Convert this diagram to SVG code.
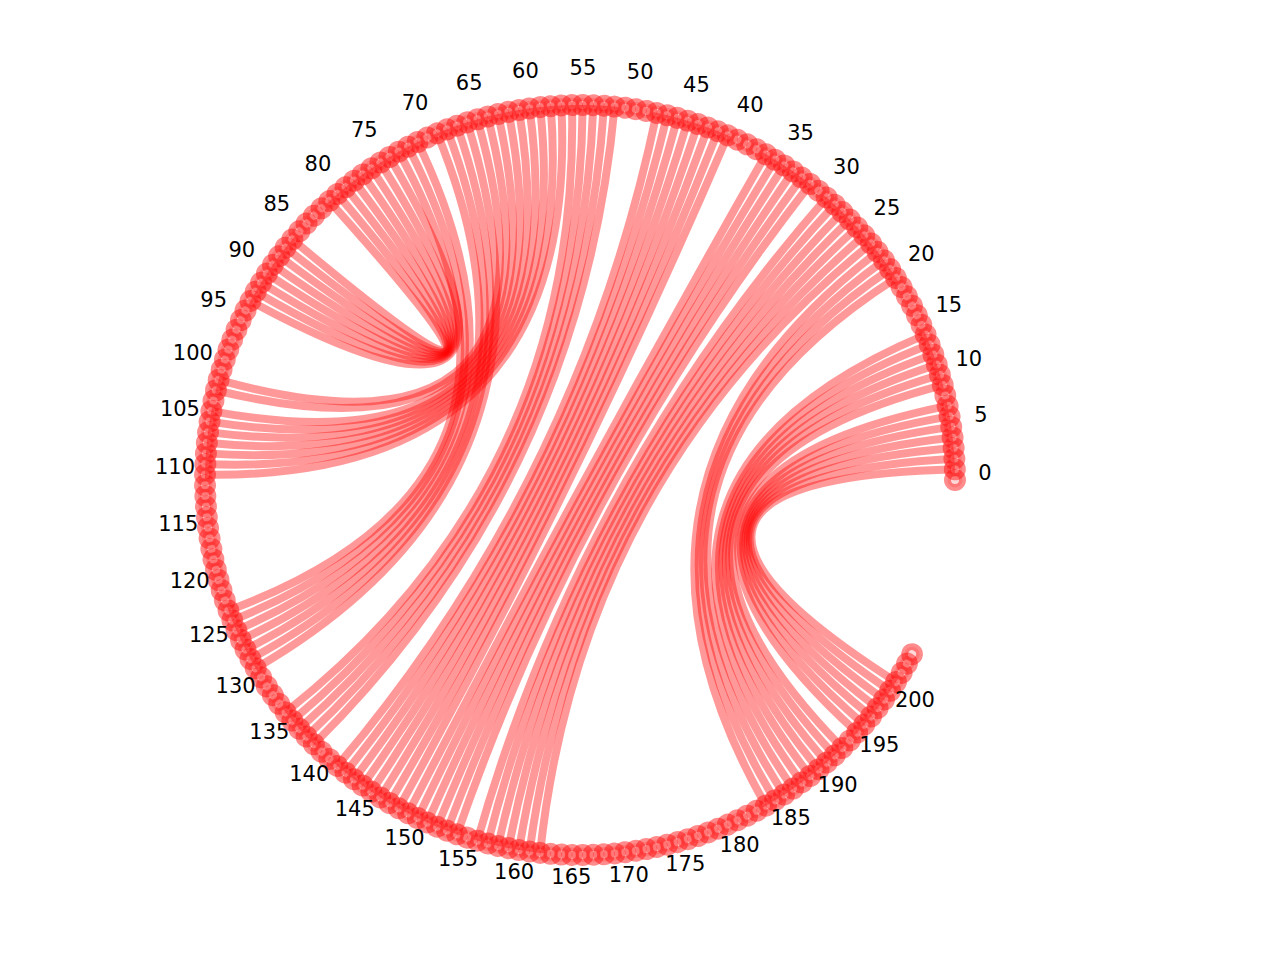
<svg xmlns="http://www.w3.org/2000/svg" width="1280" height="960" viewBox="0 0 1280 960">
<style>
.e{fill:none;stroke:rgba(255,0,0,0.4);stroke-width:8}
.nd{fill:rgba(255,0,0,0.15);stroke:rgba(255,0,0,0.45);stroke-width:7}
.lb{font-family:"DejaVu Sans","Liberation Sans",sans-serif;font-size:21px;fill:#000;text-anchor:middle}
</style>
<defs><circle id="d" class="nd" cx="955" cy="480" r="7.5"/></defs>
<rect width="1280" height="960" fill="#fff"/>
<g id="edges">
<g id="b1" transform="translate(580 480) rotate(15.475)">
<path class="e" d="M358.41 -110.29Q0 0 358.41 110.29"/>
<path class="e" d="M355.14 -120.44Q0 0 355.14 120.44"/>
<path class="e" d="M351.57 -130.48Q0 0 351.57 130.48"/>
<path class="e" d="M347.70 -140.46Q0 0 347.70 140.46"/>
<path class="e" d="M343.59 -150.25Q0 0 343.59 150.25"/>
<path class="e" d="M339.17 -159.96Q0 0 339.17 159.96"/>
<path class="e" d="M334.49 -169.53Q0 0 334.49 169.53"/>
<path class="e" d="M324.32 -188.27Q0 0 324.32 188.27"/>
<path class="e" d="M318.83 -197.41Q0 0 318.83 197.41"/>
<path class="e" d="M313.09 -206.40Q0 0 313.09 206.40"/>
<path class="e" d="M307.10 -215.21Q0 0 307.10 215.21"/>
<path class="e" d="M300.86 -223.86Q0 0 300.86 223.86"/>
<path class="e" d="M294.37 -232.32Q0 0 294.37 232.32"/>
</g>
<g id="b2" transform="translate(580 480) rotate(11.403)">
<path class="e" d="M269.84 -260.41Q0 0 269.84 260.41"/>
<path class="e" d="M262.32 -267.98Q0 0 262.32 267.98"/>
<path class="e" d="M254.60 -275.33Q0 0 254.60 275.33"/>
<path class="e" d="M246.67 -282.45Q0 0 246.67 282.45"/>
</g>
<g id="b3" transform="translate(580 480) rotate(-151.493)">
<path class="e" d="M-8.00 -374.92Q0 0 -8.00 374.92"/>
<path class="e" d="M-18.65 -374.54Q0 0 -18.65 374.54"/>
<path class="e" d="M-29.29 -373.85Q0 0 -29.29 373.85"/>
<path class="e" d="M-39.90 -372.87Q0 0 -39.90 372.87"/>
<path class="e" d="M-50.49 -371.58Q0 0 -50.49 371.58"/>
<path class="e" d="M-61.03 -370.00Q0 0 -61.03 370.00"/>
<path class="e" d="M-81.96 -365.94Q0 0 -81.96 365.94"/>
<path class="e" d="M-92.33 -363.46Q0 0 -92.33 363.46"/>
<path class="e" d="M-102.62 -360.69Q0 0 -102.62 360.69"/>
<path class="e" d="M-112.83 -357.62Q0 0 -112.83 357.62"/>
<path class="e" d="M-122.96 -354.27Q0 0 -122.96 354.27"/>
<path class="e" d="M-132.98 -350.63Q0 0 -132.98 350.63"/>
<path class="e" d="M-142.89 -346.71Q0 0 -142.89 346.71"/>
</g>
<g id="b4" transform="translate(580 480) rotate(-153.937)">
<path class="e" d="M92.33 -363.46Q0 0 92.33 363.46"/>
<path class="e" d="M81.96 -365.94Q0 0 81.96 365.94"/>
<path class="e" d="M71.52 -368.11Q0 0 71.52 368.11"/>
<path class="e" d="M61.03 -370.00Q0 0 61.03 370.00"/>
<path class="e" d="M50.49 -371.59Q0 0 50.49 371.59"/>
<path class="e" d="M39.90 -372.87Q0 0 39.90 372.87"/>
<path class="e" d="M29.29 -373.86Q0 0 29.29 373.86"/>
<path class="e" d="M18.65 -374.54Q0 0 18.65 374.54"/>
</g>
<g id="b5" transform="translate(580 480) rotate(-154.751)">
<path class="e" d="M167.15 -335.69Q0 0 167.15 335.69"/>
<path class="e" d="M157.54 -340.30Q0 0 157.54 340.30"/>
<path class="e" d="M147.80 -344.64Q0 0 147.80 344.64"/>
<path class="e" d="M137.95 -348.71Q0 0 137.95 348.71"/>
<path class="e" d="M127.98 -352.49Q0 0 127.98 352.49"/>
</g>
<g id="b6" transform="translate(580 480) rotate(-136.018)">
<path class="e" d="M313.09 -206.40Q0 0 313.09 206.40"/>
<path class="e" d="M307.10 -215.21Q0 0 307.10 215.21"/>
<path class="e" d="M300.86 -223.86Q0 0 300.86 223.86"/>
<path class="e" d="M294.37 -232.32Q0 0 294.37 232.32"/>
<path class="e" d="M287.65 -240.59Q0 0 287.65 240.59"/>
<path class="e" d="M280.69 -248.67Q0 0 280.69 248.67"/>
<path class="e" d="M273.51 -256.55Q0 0 273.51 256.55"/>
</g>
<g id="b6b" transform="translate(580 480) rotate(-135.204)">
<path class="e" d="M326.96 -183.64Q0 0 326.96 183.64"/>
<path class="e" d="M321.61 -192.86Q0 0 321.61 192.86"/>
</g>
<g id="b7" transform="translate(580 480) rotate(-158.823)">
<path class="e" d="M258.49 -271.68Q0 0 258.49 271.68"/>
<path class="e" d="M250.66 -278.92Q0 0 250.66 278.92"/>
<path class="e" d="M242.63 -285.93Q0 0 242.63 285.93"/>
<path class="e" d="M234.40 -292.71Q0 0 234.40 292.71"/>
</g>
<g id="b7b" transform="translate(580 480) rotate(-159.638)">
<path class="e" d="M284.20 -244.66Q0 0 284.20 244.66"/>
<path class="e" d="M277.13 -252.64Q0 0 277.13 252.64"/>
<path class="e" d="M269.84 -260.41Q0 0 269.84 260.41"/>
</g>
<g id="b8" transform="translate(580 480) rotate(-136.018)">
<path class="e" d="M374.05 -26.63Q0 0 374.05 26.63"/>
<path class="e" d="M373.14 -37.25Q0 0 373.14 37.25"/>
<path class="e" d="M371.94 -47.85Q0 0 371.94 47.85"/>
<path class="e" d="M370.43 -58.40Q0 0 370.43 58.40"/>
<path class="e" d="M368.61 -68.91Q0 0 368.61 68.91"/>
<path class="e" d="M366.51 -79.36Q0 0 366.51 79.36"/>
<path class="e" d="M364.10 -89.75Q0 0 364.10 89.75"/>
<path class="e" d="M361.40 -100.07Q0 0 361.40 100.07"/>
</g>
</g>
<g id="nodes">
<g id="n0"><use href="#d"/></g>
<g id="n1"><use href="#d" transform="rotate(-1.63 580 480)"/></g>
<g id="n2"><use href="#d" transform="rotate(-3.26 580 480)"/></g>
<g id="n3"><use href="#d" transform="rotate(-4.89 580 480)"/></g>
<g id="n4"><use href="#d" transform="rotate(-6.52 580 480)"/></g>
<g id="n5"><use href="#d" transform="rotate(-8.14 580 480)"/></g>
<g id="n6"><use href="#d" transform="rotate(-9.77 580 480)"/></g>
<g id="n7"><use href="#d" transform="rotate(-11.40 580 480)"/></g>
<g id="n8"><use href="#d" transform="rotate(-13.03 580 480)"/></g>
<g id="n9"><use href="#d" transform="rotate(-14.66 580 480)"/></g>
<g id="n10"><use href="#d" transform="rotate(-16.29 580 480)"/></g>
<g id="n11"><use href="#d" transform="rotate(-17.92 580 480)"/></g>
<g id="n12"><use href="#d" transform="rotate(-19.55 580 480)"/></g>
<g id="n13"><use href="#d" transform="rotate(-21.18 580 480)"/></g>
<g id="n14"><use href="#d" transform="rotate(-22.81 580 480)"/></g>
<g id="n15"><use href="#d" transform="rotate(-24.43 580 480)"/></g>
<g id="n16"><use href="#d" transform="rotate(-26.06 580 480)"/></g>
<g id="n17"><use href="#d" transform="rotate(-27.69 580 480)"/></g>
<g id="n18"><use href="#d" transform="rotate(-29.32 580 480)"/></g>
<g id="n19"><use href="#d" transform="rotate(-30.95 580 480)"/></g>
<g id="n20"><use href="#d" transform="rotate(-32.58 580 480)"/></g>
<g id="n21"><use href="#d" transform="rotate(-34.21 580 480)"/></g>
<g id="n22"><use href="#d" transform="rotate(-35.84 580 480)"/></g>
<g id="n23"><use href="#d" transform="rotate(-37.47 580 480)"/></g>
<g id="n24"><use href="#d" transform="rotate(-39.10 580 480)"/></g>
<g id="n25"><use href="#d" transform="rotate(-40.72 580 480)"/></g>
<g id="n26"><use href="#d" transform="rotate(-42.35 580 480)"/></g>
<g id="n27"><use href="#d" transform="rotate(-43.98 580 480)"/></g>
<g id="n28"><use href="#d" transform="rotate(-45.61 580 480)"/></g>
<g id="n29"><use href="#d" transform="rotate(-47.24 580 480)"/></g>
<g id="n30"><use href="#d" transform="rotate(-48.87 580 480)"/></g>
<g id="n31"><use href="#d" transform="rotate(-50.50 580 480)"/></g>
<g id="n32"><use href="#d" transform="rotate(-52.13 580 480)"/></g>
<g id="n33"><use href="#d" transform="rotate(-53.76 580 480)"/></g>
<g id="n34"><use href="#d" transform="rotate(-55.38 580 480)"/></g>
<g id="n35"><use href="#d" transform="rotate(-57.01 580 480)"/></g>
<g id="n36"><use href="#d" transform="rotate(-58.64 580 480)"/></g>
<g id="n37"><use href="#d" transform="rotate(-60.27 580 480)"/></g>
<g id="n38"><use href="#d" transform="rotate(-61.90 580 480)"/></g>
<g id="n39"><use href="#d" transform="rotate(-63.53 580 480)"/></g>
<g id="n40"><use href="#d" transform="rotate(-65.16 580 480)"/></g>
<g id="n41"><use href="#d" transform="rotate(-66.79 580 480)"/></g>
<g id="n42"><use href="#d" transform="rotate(-68.42 580 480)"/></g>
<g id="n43"><use href="#d" transform="rotate(-70.05 580 480)"/></g>
<g id="n44"><use href="#d" transform="rotate(-71.67 580 480)"/></g>
<g id="n45"><use href="#d" transform="rotate(-73.30 580 480)"/></g>
<g id="n46"><use href="#d" transform="rotate(-74.93 580 480)"/></g>
<g id="n47"><use href="#d" transform="rotate(-76.56 580 480)"/></g>
<g id="n48"><use href="#d" transform="rotate(-78.19 580 480)"/></g>
<g id="n49"><use href="#d" transform="rotate(-79.82 580 480)"/></g>
<g id="n50"><use href="#d" transform="rotate(-81.45 580 480)"/></g>
<g id="n51"><use href="#d" transform="rotate(-83.08 580 480)"/></g>
<g id="n52"><use href="#d" transform="rotate(-84.71 580 480)"/></g>
<g id="n53"><use href="#d" transform="rotate(-86.33 580 480)"/></g>
<g id="n54"><use href="#d" transform="rotate(-87.96 580 480)"/></g>
<g id="n55"><use href="#d" transform="rotate(-89.59 580 480)"/></g>
<g id="n56"><use href="#d" transform="rotate(-91.22 580 480)"/></g>
<g id="n57"><use href="#d" transform="rotate(-92.85 580 480)"/></g>
<g id="n58"><use href="#d" transform="rotate(-94.48 580 480)"/></g>
<g id="n59"><use href="#d" transform="rotate(-96.11 580 480)"/></g>
<g id="n60"><use href="#d" transform="rotate(-97.74 580 480)"/></g>
<g id="n61"><use href="#d" transform="rotate(-99.37 580 480)"/></g>
<g id="n62"><use href="#d" transform="rotate(-101.00 580 480)"/></g>
<g id="n63"><use href="#d" transform="rotate(-102.62 580 480)"/></g>
<g id="n64"><use href="#d" transform="rotate(-104.25 580 480)"/></g>
<g id="n65"><use href="#d" transform="rotate(-105.88 580 480)"/></g>
<g id="n66"><use href="#d" transform="rotate(-107.51 580 480)"/></g>
<g id="n67"><use href="#d" transform="rotate(-109.14 580 480)"/></g>
<g id="n68"><use href="#d" transform="rotate(-110.77 580 480)"/></g>
<g id="n69"><use href="#d" transform="rotate(-112.40 580 480)"/></g>
<g id="n70"><use href="#d" transform="rotate(-114.03 580 480)"/></g>
<g id="n71"><use href="#d" transform="rotate(-115.66 580 480)"/></g>
<g id="n72"><use href="#d" transform="rotate(-117.29 580 480)"/></g>
<g id="n73"><use href="#d" transform="rotate(-118.91 580 480)"/></g>
<g id="n74"><use href="#d" transform="rotate(-120.54 580 480)"/></g>
<g id="n75"><use href="#d" transform="rotate(-122.17 580 480)"/></g>
<g id="n76"><use href="#d" transform="rotate(-123.80 580 480)"/></g>
<g id="n77"><use href="#d" transform="rotate(-125.43 580 480)"/></g>
<g id="n78"><use href="#d" transform="rotate(-127.06 580 480)"/></g>
<g id="n79"><use href="#d" transform="rotate(-128.69 580 480)"/></g>
<g id="n80"><use href="#d" transform="rotate(-130.32 580 480)"/></g>
<g id="n81"><use href="#d" transform="rotate(-131.95 580 480)"/></g>
<g id="n82"><use href="#d" transform="rotate(-133.57 580 480)"/></g>
<g id="n83"><use href="#d" transform="rotate(-135.20 580 480)"/></g>
<g id="n84"><use href="#d" transform="rotate(-136.83 580 480)"/></g>
<g id="n85"><use href="#d" transform="rotate(-138.46 580 480)"/></g>
<g id="n86"><use href="#d" transform="rotate(-140.09 580 480)"/></g>
<g id="n87"><use href="#d" transform="rotate(-141.72 580 480)"/></g>
<g id="n88"><use href="#d" transform="rotate(-143.35 580 480)"/></g>
<g id="n89"><use href="#d" transform="rotate(-144.98 580 480)"/></g>
<g id="n90"><use href="#d" transform="rotate(-146.61 580 480)"/></g>
<g id="n91"><use href="#d" transform="rotate(-148.24 580 480)"/></g>
<g id="n92"><use href="#d" transform="rotate(-149.86 580 480)"/></g>
<g id="n93"><use href="#d" transform="rotate(-151.49 580 480)"/></g>
<g id="n94"><use href="#d" transform="rotate(-153.12 580 480)"/></g>
<g id="n95"><use href="#d" transform="rotate(-154.75 580 480)"/></g>
<g id="n96"><use href="#d" transform="rotate(-156.38 580 480)"/></g>
<g id="n97"><use href="#d" transform="rotate(-158.01 580 480)"/></g>
<g id="n98"><use href="#d" transform="rotate(-159.64 580 480)"/></g>
<g id="n99"><use href="#d" transform="rotate(-161.27 580 480)"/></g>
<g id="n100"><use href="#d" transform="rotate(-162.90 580 480)"/></g>
<g id="n101"><use href="#d" transform="rotate(-164.52 580 480)"/></g>
<g id="n102"><use href="#d" transform="rotate(-166.15 580 480)"/></g>
<g id="n103"><use href="#d" transform="rotate(-167.78 580 480)"/></g>
<g id="n104"><use href="#d" transform="rotate(-169.41 580 480)"/></g>
<g id="n105"><use href="#d" transform="rotate(-171.04 580 480)"/></g>
<g id="n106"><use href="#d" transform="rotate(-172.67 580 480)"/></g>
<g id="n107"><use href="#d" transform="rotate(-174.30 580 480)"/></g>
<g id="n108"><use href="#d" transform="rotate(-175.93 580 480)"/></g>
<g id="n109"><use href="#d" transform="rotate(-177.56 580 480)"/></g>
<g id="n110"><use href="#d" transform="rotate(-179.19 580 480)"/></g>
<g id="n111"><use href="#d" transform="rotate(-180.81 580 480)"/></g>
<g id="n112"><use href="#d" transform="rotate(-182.44 580 480)"/></g>
<g id="n113"><use href="#d" transform="rotate(-184.07 580 480)"/></g>
<g id="n114"><use href="#d" transform="rotate(-185.70 580 480)"/></g>
<g id="n115"><use href="#d" transform="rotate(-187.33 580 480)"/></g>
<g id="n116"><use href="#d" transform="rotate(-188.96 580 480)"/></g>
<g id="n117"><use href="#d" transform="rotate(-190.59 580 480)"/></g>
<g id="n118"><use href="#d" transform="rotate(-192.22 580 480)"/></g>
<g id="n119"><use href="#d" transform="rotate(-193.85 580 480)"/></g>
<g id="n120"><use href="#d" transform="rotate(-195.48 580 480)"/></g>
<g id="n121"><use href="#d" transform="rotate(-197.10 580 480)"/></g>
<g id="n122"><use href="#d" transform="rotate(-198.73 580 480)"/></g>
<g id="n123"><use href="#d" transform="rotate(-200.36 580 480)"/></g>
<g id="n124"><use href="#d" transform="rotate(-201.99 580 480)"/></g>
<g id="n125"><use href="#d" transform="rotate(-203.62 580 480)"/></g>
<g id="n126"><use href="#d" transform="rotate(-205.25 580 480)"/></g>
<g id="n127"><use href="#d" transform="rotate(-206.88 580 480)"/></g>
<g id="n128"><use href="#d" transform="rotate(-208.51 580 480)"/></g>
<g id="n129"><use href="#d" transform="rotate(-210.14 580 480)"/></g>
<g id="n130"><use href="#d" transform="rotate(-211.76 580 480)"/></g>
<g id="n131"><use href="#d" transform="rotate(-213.39 580 480)"/></g>
<g id="n132"><use href="#d" transform="rotate(-215.02 580 480)"/></g>
<g id="n133"><use href="#d" transform="rotate(-216.65 580 480)"/></g>
<g id="n134"><use href="#d" transform="rotate(-218.28 580 480)"/></g>
<g id="n135"><use href="#d" transform="rotate(-219.91 580 480)"/></g>
<g id="n136"><use href="#d" transform="rotate(-221.54 580 480)"/></g>
<g id="n137"><use href="#d" transform="rotate(-223.17 580 480)"/></g>
<g id="n138"><use href="#d" transform="rotate(-224.80 580 480)"/></g>
<g id="n139"><use href="#d" transform="rotate(-226.43 580 480)"/></g>
<g id="n140"><use href="#d" transform="rotate(-228.05 580 480)"/></g>
<g id="n141"><use href="#d" transform="rotate(-229.68 580 480)"/></g>
<g id="n142"><use href="#d" transform="rotate(-231.31 580 480)"/></g>
<g id="n143"><use href="#d" transform="rotate(-232.94 580 480)"/></g>
<g id="n144"><use href="#d" transform="rotate(-234.57 580 480)"/></g>
<g id="n145"><use href="#d" transform="rotate(-236.20 580 480)"/></g>
<g id="n146"><use href="#d" transform="rotate(-237.83 580 480)"/></g>
<g id="n147"><use href="#d" transform="rotate(-239.46 580 480)"/></g>
<g id="n148"><use href="#d" transform="rotate(-241.09 580 480)"/></g>
<g id="n149"><use href="#d" transform="rotate(-242.71 580 480)"/></g>
<g id="n150"><use href="#d" transform="rotate(-244.34 580 480)"/></g>
<g id="n151"><use href="#d" transform="rotate(-245.97 580 480)"/></g>
<g id="n152"><use href="#d" transform="rotate(-247.60 580 480)"/></g>
<g id="n153"><use href="#d" transform="rotate(-249.23 580 480)"/></g>
<g id="n154"><use href="#d" transform="rotate(-250.86 580 480)"/></g>
<g id="n155"><use href="#d" transform="rotate(-252.49 580 480)"/></g>
<g id="n156"><use href="#d" transform="rotate(-254.12 580 480)"/></g>
<g id="n157"><use href="#d" transform="rotate(-255.75 580 480)"/></g>
<g id="n158"><use href="#d" transform="rotate(-257.38 580 480)"/></g>
<g id="n159"><use href="#d" transform="rotate(-259.00 580 480)"/></g>
<g id="n160"><use href="#d" transform="rotate(-260.63 580 480)"/></g>
<g id="n161"><use href="#d" transform="rotate(-262.26 580 480)"/></g>
<g id="n162"><use href="#d" transform="rotate(-263.89 580 480)"/></g>
<g id="n163"><use href="#d" transform="rotate(-265.52 580 480)"/></g>
<g id="n164"><use href="#d" transform="rotate(-267.15 580 480)"/></g>
<g id="n165"><use href="#d" transform="rotate(-268.78 580 480)"/></g>
<g id="n166"><use href="#d" transform="rotate(-270.41 580 480)"/></g>
<g id="n167"><use href="#d" transform="rotate(-272.04 580 480)"/></g>
<g id="n168"><use href="#d" transform="rotate(-273.67 580 480)"/></g>
<g id="n169"><use href="#d" transform="rotate(-275.29 580 480)"/></g>
<g id="n170"><use href="#d" transform="rotate(-276.92 580 480)"/></g>
<g id="n171"><use href="#d" transform="rotate(-278.55 580 480)"/></g>
<g id="n172"><use href="#d" transform="rotate(-280.18 580 480)"/></g>
<g id="n173"><use href="#d" transform="rotate(-281.81 580 480)"/></g>
<g id="n174"><use href="#d" transform="rotate(-283.44 580 480)"/></g>
<g id="n175"><use href="#d" transform="rotate(-285.07 580 480)"/></g>
<g id="n176"><use href="#d" transform="rotate(-286.70 580 480)"/></g>
<g id="n177"><use href="#d" transform="rotate(-288.33 580 480)"/></g>
<g id="n178"><use href="#d" transform="rotate(-289.95 580 480)"/></g>
<g id="n179"><use href="#d" transform="rotate(-291.58 580 480)"/></g>
<g id="n180"><use href="#d" transform="rotate(-293.21 580 480)"/></g>
<g id="n181"><use href="#d" transform="rotate(-294.84 580 480)"/></g>
<g id="n182"><use href="#d" transform="rotate(-296.47 580 480)"/></g>
<g id="n183"><use href="#d" transform="rotate(-298.10 580 480)"/></g>
<g id="n184"><use href="#d" transform="rotate(-299.73 580 480)"/></g>
<g id="n185"><use href="#d" transform="rotate(-301.36 580 480)"/></g>
<g id="n186"><use href="#d" transform="rotate(-302.99 580 480)"/></g>
<g id="n187"><use href="#d" transform="rotate(-304.62 580 480)"/></g>
<g id="n188"><use href="#d" transform="rotate(-306.24 580 480)"/></g>
<g id="n189"><use href="#d" transform="rotate(-307.87 580 480)"/></g>
<g id="n190"><use href="#d" transform="rotate(-309.50 580 480)"/></g>
<g id="n191"><use href="#d" transform="rotate(-311.13 580 480)"/></g>
<g id="n192"><use href="#d" transform="rotate(-312.76 580 480)"/></g>
<g id="n193"><use href="#d" transform="rotate(-314.39 580 480)"/></g>
<g id="n194"><use href="#d" transform="rotate(-316.02 580 480)"/></g>
<g id="n195"><use href="#d" transform="rotate(-317.65 580 480)"/></g>
<g id="n196"><use href="#d" transform="rotate(-319.28 580 480)"/></g>
<g id="n197"><use href="#d" transform="rotate(-320.90 580 480)"/></g>
<g id="n198"><use href="#d" transform="rotate(-322.53 580 480)"/></g>
<g id="n199"><use href="#d" transform="rotate(-324.16 580 480)"/></g>
<g id="n200"><use href="#d" transform="rotate(-325.79 580 480)"/></g>
<g id="n201"><use href="#d" transform="rotate(-327.42 580 480)"/></g>
<g id="n202"><use href="#d" transform="rotate(-329.05 580 480)"/></g>
<g id="n203"><use href="#d" transform="rotate(-330.68 580 480)"/></g>
<g id="n204"><use href="#d" transform="rotate(-332.31 580 480)"/></g>
</g>
<g id="labels" class="lb">
<text transform="translate(580 472) rotate(0) translate(405 0) rotate(0)" y="7.5">0</text>
<text transform="translate(580 472) rotate(-8.14) translate(405 0) rotate(8.14)" y="7.5">5</text>
<text transform="translate(580 472) rotate(-16.29) translate(405 0) rotate(16.29)" y="7.5">10</text>
<text transform="translate(580 472) rotate(-24.43) translate(405 0) rotate(24.43)" y="7.5">15</text>
<text transform="translate(580 472) rotate(-32.58) translate(405 0) rotate(32.58)" y="7.5">20</text>
<text transform="translate(580 472) rotate(-40.72) translate(405 0) rotate(40.72)" y="7.5">25</text>
<text transform="translate(580 472) rotate(-48.87) translate(405 0) rotate(48.87)" y="7.5">30</text>
<text transform="translate(580 472) rotate(-57.01) translate(405 0) rotate(57.01)" y="7.5">35</text>
<text transform="translate(580 472) rotate(-65.16) translate(405 0) rotate(65.16)" y="7.5">40</text>
<text transform="translate(580 472) rotate(-73.30) translate(405 0) rotate(73.30)" y="7.5">45</text>
<text transform="translate(580 472) rotate(-81.45) translate(405 0) rotate(81.45)" y="7.5">50</text>
<text transform="translate(580 472) rotate(-89.59) translate(405 0) rotate(89.59)" y="7.5">55</text>
<text transform="translate(580 472) rotate(-97.74) translate(405 0) rotate(97.74)" y="7.5">60</text>
<text transform="translate(580 472) rotate(-105.88) translate(405 0) rotate(105.88)" y="7.5">65</text>
<text transform="translate(580 472) rotate(-114.03) translate(405 0) rotate(114.03)" y="7.5">70</text>
<text transform="translate(580 472) rotate(-122.17) translate(405 0) rotate(122.17)" y="7.5">75</text>
<text transform="translate(580 472) rotate(-130.32) translate(405 0) rotate(130.32)" y="7.5">80</text>
<text transform="translate(580 472) rotate(-138.46) translate(405 0) rotate(138.46)" y="7.5">85</text>
<text transform="translate(580 472) rotate(-146.61) translate(405 0) rotate(146.61)" y="7.5">90</text>
<text transform="translate(580 472) rotate(-154.75) translate(405 0) rotate(154.75)" y="7.5">95</text>
<text transform="translate(580 472) rotate(-162.90) translate(405 0) rotate(162.90)" y="7.5">100</text>
<text transform="translate(580 472) rotate(-171.04) translate(405 0) rotate(171.04)" y="7.5">105</text>
<text transform="translate(580 472) rotate(-179.19) translate(405 0) rotate(179.19)" y="7.5">110</text>
<text transform="translate(580 472) rotate(-187.33) translate(405 0) rotate(187.33)" y="7.5">115</text>
<text transform="translate(580 472) rotate(-195.48) translate(405 0) rotate(195.48)" y="7.5">120</text>
<text transform="translate(580 472) rotate(-203.62) translate(405 0) rotate(203.62)" y="7.5">125</text>
<text transform="translate(580 472) rotate(-211.76) translate(405 0) rotate(211.76)" y="7.5">130</text>
<text transform="translate(580 472) rotate(-219.91) translate(405 0) rotate(219.91)" y="7.5">135</text>
<text transform="translate(580 472) rotate(-228.05) translate(405 0) rotate(228.05)" y="7.5">140</text>
<text transform="translate(580 472) rotate(-236.20) translate(405 0) rotate(236.20)" y="7.5">145</text>
<text transform="translate(580 472) rotate(-244.34) translate(405 0) rotate(244.34)" y="7.5">150</text>
<text transform="translate(580 472) rotate(-252.49) translate(405 0) rotate(252.49)" y="7.5">155</text>
<text transform="translate(580 472) rotate(-260.63) translate(405 0) rotate(260.63)" y="7.5">160</text>
<text transform="translate(580 472) rotate(-268.78) translate(405 0) rotate(268.78)" y="7.5">165</text>
<text transform="translate(580 472) rotate(-276.92) translate(405 0) rotate(276.92)" y="7.5">170</text>
<text transform="translate(580 472) rotate(-285.07) translate(405 0) rotate(285.07)" y="7.5">175</text>
<text transform="translate(580 472) rotate(-293.21) translate(405 0) rotate(293.21)" y="7.5">180</text>
<text transform="translate(580 472) rotate(-301.36) translate(405 0) rotate(301.36)" y="7.5">185</text>
<text transform="translate(580 472) rotate(-309.50) translate(405 0) rotate(309.50)" y="7.5">190</text>
<text transform="translate(580 472) rotate(-317.65) translate(405 0) rotate(317.65)" y="7.5">195</text>
<text transform="translate(580 472) rotate(-325.79) translate(405 0) rotate(325.79)" y="7.5">200</text>
</g>
</svg>
